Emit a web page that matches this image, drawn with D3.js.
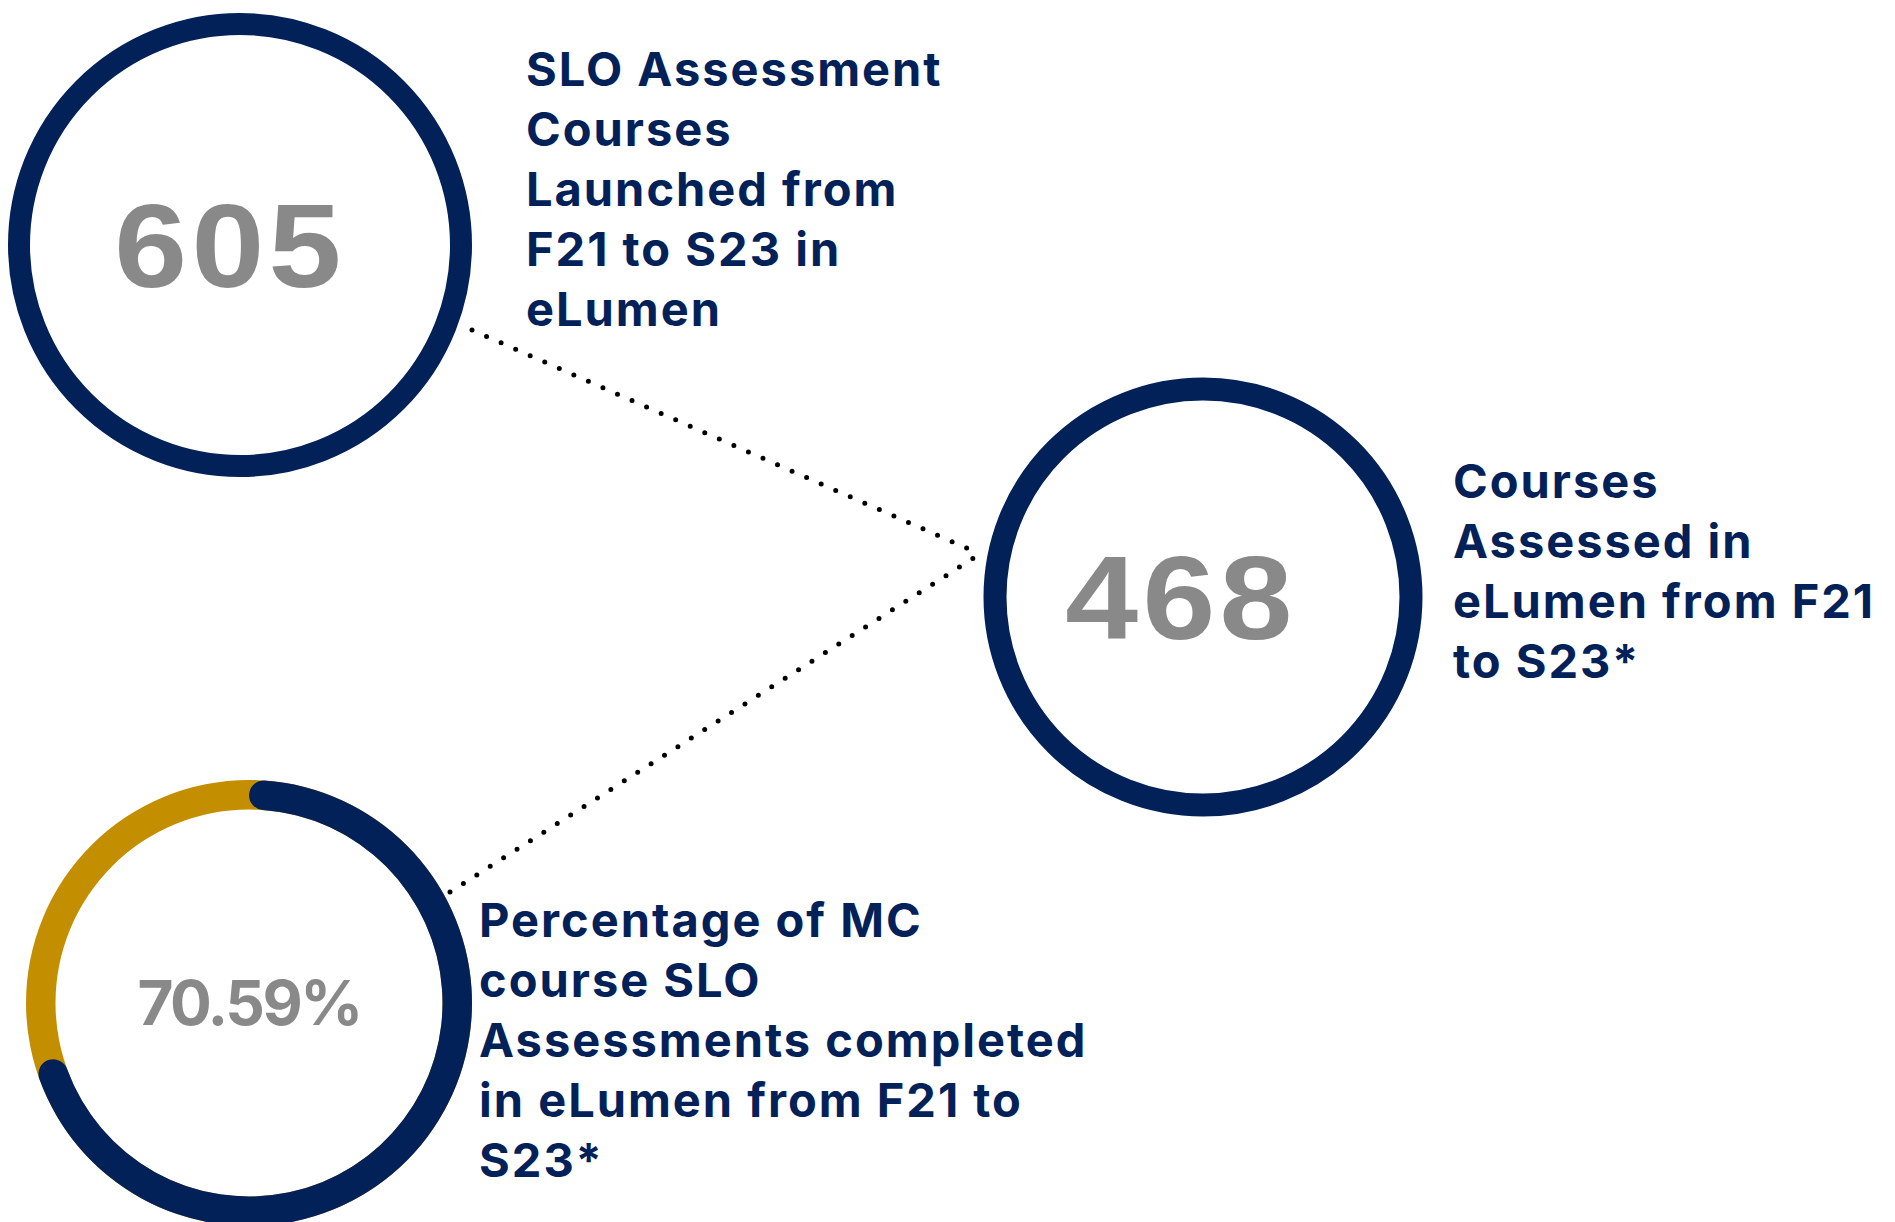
<!DOCTYPE html>
<meta charset="UTF-8">
<style>
	body { margin: 0; background: #fff; }
	.num { font-family: "Liberation Sans", Arial, sans-serif; font-weight: bold; fill: #898989; }
	.pct { font-family: Inter, sans-serif; font-weight: 700; fill: #898989; }
	.label { font-family: Inter, sans-serif; font-weight: 700; fill: #022159; letter-spacing: 2px; }
	.link { fill: none; stroke: #000; stroke-width: 5px; stroke-linecap: round; stroke-dasharray: 0 15.9; }
</style>
<body>
<script src="https://d3js.org/d3.v7.min.js"></script>
<script>

	// values
	const counts = [605, 468];
	const countLabels = [
		["SLO Assessment", "Courses", "Launched from", "F21 to S23 in", "eLumen"],
		["Courses", "Assessed in", "eLumen from F21", "to S23*"]
	];
	const pctValue = 70.59;
	const pctLabel = ["Percentage of MC", "course SLO", "Assessments completed", "in eLumen from F21 to", "S23*"];

	// layout
	var width = 1895, height = 1222;
	const navy = "#022159", gold = "#c38f00";
	const rings = [
		{ cx: 240, cy: 245, r: 221, w: 22, dx: -10, lx: 526, ly: 86 },
		{ cx: 1203, cy: 597, r: 208, w: 23, dx: -22, lx: 1453, ly: 498 }
	];
	const donut = { cx: 249, cy: 1003, inner: 193.5, outer: 223, lx: 479, ly: 937 };
	const hub = { x: 980, y: 554 };
	const lineH = 60;

	var svg = d3.select("body").append("svg")
		.attr("width", width)
		.attr("height", height);

	// dotted connectors
	const links = [[472, 330], [450, 892]];
	svg.selectAll("path.link")
		.data(links)
		.enter().append("path")
		.attr("class", "link")
		.attr("d", d => d3.line()([d, [hub.x, hub.y]]));

	// plain rings with a count
	const g = svg.selectAll("g.ring")
		.data(counts)
		.enter().append("g")
		.attr("class", "ring")
		.attr("transform", (d, i) => `translate(${rings[i].cx},${rings[i].cy})`);

	g.append("circle")
		.attr("r", (d, i) => rings[i].r)
		.attr("fill", "#fff")
		.attr("stroke", navy)
		.attr("stroke-width", (d, i) => rings[i].w);

	g.append("text")
		.attr("class", "num")
		.attr("text-anchor", "middle")
		.attr("transform", (d, i) => `translate(${rings[i].dx},42) scale(1.1,1)`)
		.style("font-size", "119px")
		.style("letter-spacing", "4px")
		.text(d => d);

	// labels
	const drawLabel = (lines, x, y) => {
		svg.append("text")
			.attr("class", "label")
			.style("font-size", "47px")
			.selectAll("tspan")
			.data(lines)
			.enter().append("tspan")
			.attr("x", x)
			.attr("y", (d, i) => y + i * lineH)
			.text(d => d);
	};
	countLabels.forEach((lines, i) => drawLabel(lines, rings[i].lx, rings[i].ly));
	drawLabel(pctLabel, donut.lx, donut.ly);

	// percentage donut
	const angle = d3.scaleLinear().domain([0, 100]).range([0, 2 * Math.PI]);
	const arc = d3.arc()
		.innerRadius(donut.inner)
		.outerRadius(donut.outer)
		.startAngle(0);

	const dg = svg.append("g")
		.attr("transform", `translate(${donut.cx},${donut.cy})`);

	dg.append("path")
		.attr("fill", gold)
		.attr("d", arc({ endAngle: angle(100) }));

	dg.append("path")
		.attr("fill", navy)
		.attr("d", arc.cornerRadius((donut.outer - donut.inner) / 2)({ endAngle: angle(pctValue) }));

	dg.append("text")
		.attr("class", "pct")
		.attr("text-anchor", "middle")
		.attr("x", 0)
		.attr("y", 22)
		.style("font-size", "62px")
		.style("letter-spacing", "-2.5px")
		.text(d3.format(".2f")(pctValue) + "%");

</script>
</body>
